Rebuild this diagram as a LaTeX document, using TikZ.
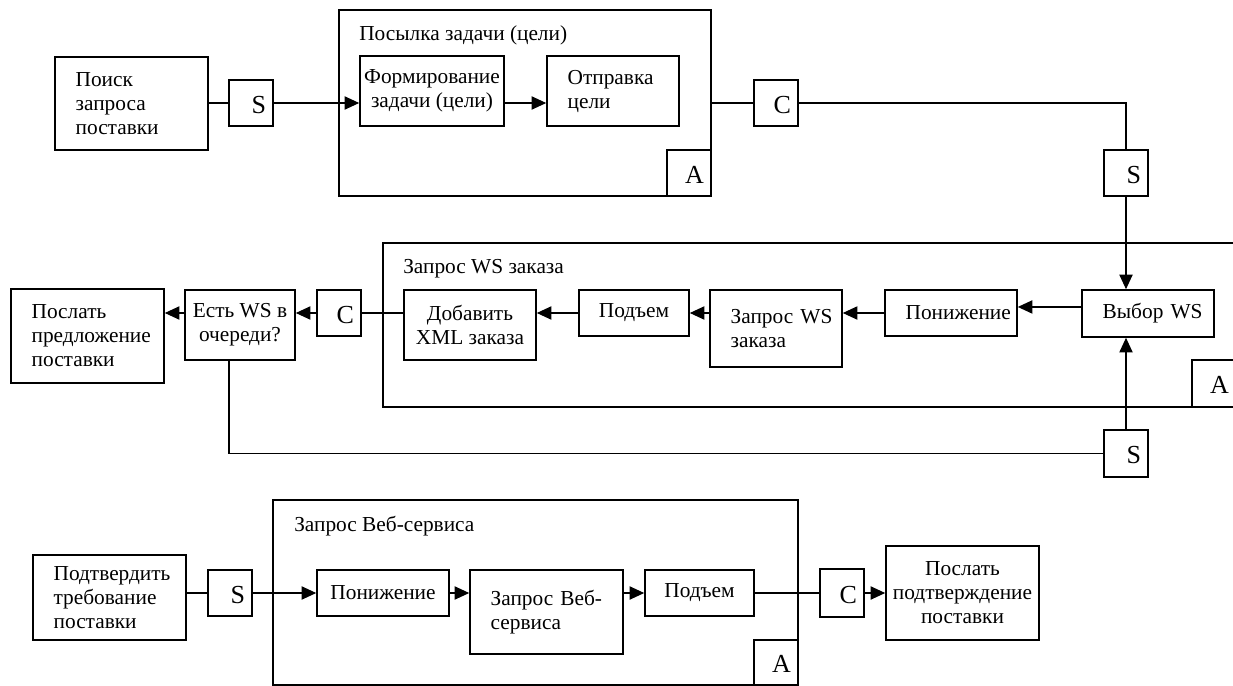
\documentclass[tikz,border=0pt]{standalone}
\usepackage{fontspec}
\setmainfont{Liberation Serif}
\usetikzlibrary{arrows.meta,calc}

\tikzset{
  box/.style={draw, line width=1.2pt, inner ysep=1pt, inner xsep=2pt,
    font=\fontsize{16}{18}\selectfont},
  sq/.style={draw, line width=1.2pt, align=right, inner xsep=5.25pt, inner ysep=0pt,
    font=\fontsize{19.5}{21}\selectfont, text height=15.5pt, text depth=0pt},
  ttl/.style={anchor=base west, inner sep=0pt, font=\fontsize{16}{18}\selectfont},
  ln/.style={line width=0.9pt},
  arr/.style={line width=0.9pt, -{Triangle[length=11pt,width=10pt]}}
}

% centred text box: [opts]{name}{x1}{y1}{x2}{y2}{text}
\newcommand\bxc[7][]{%
  \pgfmathsetmacro\myw{(#5-#3)*0.75}\pgfmathsetmacro\myh{(#6-#4)*0.75}%
  \node[box, align=center, minimum width=\myw pt, minimum height=\myh pt, #1]
    (#2) at ({(#3+#5)/2},{(#4+#6)/2}) {#7};}
% left-aligned text box
\newcommand\bxl[7][]{%
  \pgfmathsetmacro\myw{(#5-#3)*0.75}\pgfmathsetmacro\myh{(#6-#4)*0.75}%
  \node[box, align=left, inner xsep=0pt, text width=\myw pt, minimum height=\myh pt, #1]
    (#2) at ({(#3+#5)/2},{(#4+#6)/2}) {\leftskip=15.5pt\relax #7\par};}
% letter box
\newcommand\bxs[7][]{%
  \pgfmathsetmacro\myw{(#5-#3-14)*0.75}\pgfmathsetmacro\myh{(#6-#4)*0.75}%
  \node[sq, text width=\myw pt, minimum height=\myh pt, #1]
    (#2) at ({(#3+#5)/2},{(#4+#6)/2}) {#7};}

\begin{document}
\begin{tikzpicture}[x=0.75pt, y=-0.75pt]
\useasboundingbox (0,0) rectangle (1233,686);
\clip (0,0) rectangle (1233,686);

% ---------- top row ----------
\bxc{cont1}{339}{10}{711}{196}{}
\node[ttl] (t1) at (359,40) {Посылка задачи (цели)};
\bxl{poisk}{55}{57}{208}{150}{Поиск\\запроса\\поставки}
\bxs{S1}{229}{80}{273}{126}{S}
\bxc{form}{360}{56}{504}{126}{Формирование\\задачи (цели)}
\bxl{otpr}{547}{56}{679}{126}{Отправка\\цели}
\bxs{A1}{667}{150}{711}{196}{A}
\bxs{C1}{754}{80}{798}{126}{C}
\bxs{S2}{1104}{150}{1148}{196}{S}

\draw[ln] (poisk.east |- S1.west) -- (S1.west);
\draw[arr] (S1.east) -- (S1.east -| form.west);
\draw[arr] (form.east |- S1.east) -- (otpr.west |- S1.east);
\draw[ln] (cont1.east |- C1.west) -- (C1.west);
\draw[ln] (C1.east) -| (S2.north);

% ---------- middle row ----------
\bxc{cont2}{383}{243}{1260}{407}{}
\node[ttl] (t2) at (403,273) {Запрос WS заказа};
\bxl{poslpr}{11}{289}{164}{383}{Послать\\предложение\\поставки}
\bxc{est}{185}{290}{295}{360}{Есть WS в\\очереди?}
\bxs{C2}{317}{290}{361}{336}{C}
\bxc{dob}{404}{290}{536}{360}{Добавить\\XML заказа}
\bxc{pod1}{579}{290}{689}{336}{Подъем}
\bxl{zapws}{710}{290}{842}{367}{Запрос WS\\заказа}
\bxl{pon1}{885}{290}{1017}{336}{Понижение}
\bxl{vybor}{1082}{290}{1214}{337}{Выбор WS}
\bxs{A2}{1192}{360}{1236}{407}{A}
\bxs{S3}{1104}{430}{1148}{477}{S}

\draw[arr] (S2.south) -- (S2.south |- vybor.north);
\coordinate (vw) at ([yshift=4.9pt]vybor.west);
\draw[arr] (vw) -- (vw -| pon1.east);
\draw[arr] (pon1.west) -- (pon1.west -| zapws.east);
\draw[arr] (zapws.west |- pod1.west) -- (pod1.east);
\draw[arr] (pod1.west) -- (pod1.west -| dob.east);
\draw[ln] (dob.west |- C2.east) -- (C2.east);
\draw[arr] (C2.west) -- (C2.west -| est.east);
\draw[arr] (est.west |- C2.west) -- (C2.west -| poslpr.east);
\draw[arr] (S3.north) -- (S3.north |- vybor.south);
\draw[ln] ([xshift=-8.25pt]est.south) |- (S3.west);

% ---------- bottom row ----------
\bxc{cont3}{273}{500}{798}{685}{}
\node[ttl] (t3) at (294,531) {Запрос Веб-сервиса};
\bxl{podtv}{33}{555}{186}{640}{Подтвердить\\требование\\поставки}
\bxs{S4}{208}{570}{252}{616}{S}
\bxc{pon2}{317}{570}{449}{616}{Понижение}
\bxl{zapveb}{470}{570}{623}{654}{Запрос Веб-\\сервиса}
\bxc{pod2}{645}{570}{754}{616}{Подъем}
\bxs{A3}{754}{640}{798}{685}{A}
\bxs{C3}{820}{569}{864}{617}{C}
\bxc{poslpodtv}{886}{546}{1039}{640}{Послать\\подтверждение\\поставки}

\draw[ln] (podtv.east |- S4.west) -- (S4.west);
\draw[arr] (S4.east) -- (S4.east -| pon2.west);
\draw[arr] (pon2.east) -- (pon2.east -| zapveb.west);
\draw[arr] (zapveb.east |- pod2.west) -- (pod2.west);
\draw[ln] (pod2.east) -- (C3.west);
\draw[arr] (C3.east) -- (C3.east -| poslpodtv.west);
\end{tikzpicture}
\end{document}
